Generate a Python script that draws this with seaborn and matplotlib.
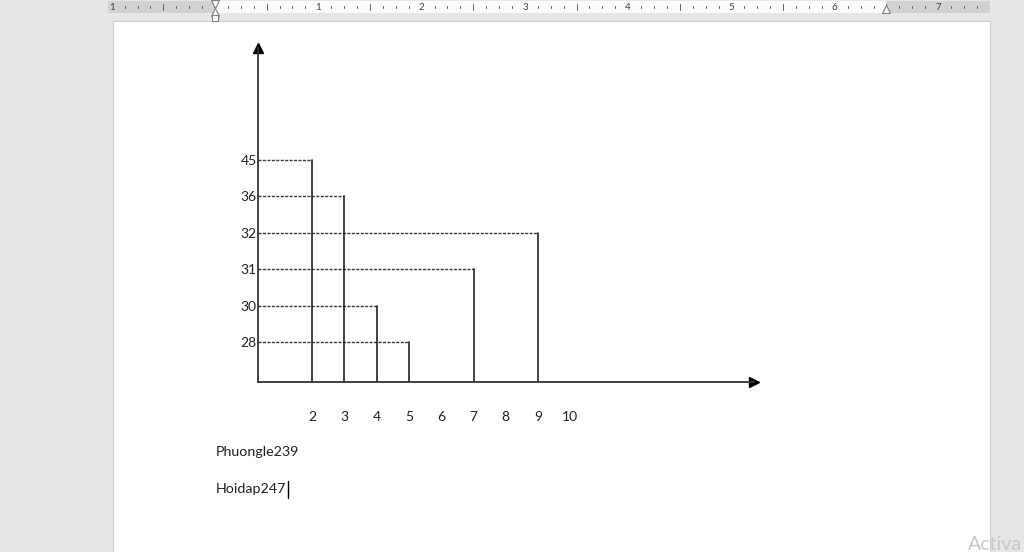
import numpy as np
import pandas as pd
import matplotlib
matplotlib.use("Agg")
import matplotlib.pyplot as plt
from matplotlib.patches import Rectangle
import seaborn as sns

# ---- data ----
x_values = [2, 3, 4, 5, 7, 9]
frequencies = [45, 36, 30, 28, 31, 32]
x_tick_labels = [2, 3, 4, 5, 6, 7, 8, 9, 10]
y_tick_labels = sorted(set(frequencies))          # 28, 30, 31, 32, 36, 45 (equally spaced)
footer_lines = ["Phuongle239", "Hoidap247"]

sns.set_theme(style="white")
plt.rcParams["font.family"] = ["Lato", "DejaVu Sans"]

W, H = 1024, 552
fig = plt.figure(figsize=(W / 100, H / 100), dpi=100)
fig.patch.set_facecolor("#e6e6e6")

def fx(px):
    return px / W

def fy(py):
    return 1 - py / H

# Word page & ruler decoration
fig.add_artist(Rectangle((fx(113), 0), fx(990) - fx(113), fy(21), transform=fig.transFigure,
                         facecolor="white", edgecolor="#cfcfcf", lw=0.8, zorder=0))
fig.add_artist(Rectangle((fx(108), fy(13)), fx(990) - fx(108), fy(1) - fy(13), transform=fig.transFigure,
                         facecolor="#d2d2d2", edgecolor="none", zorder=0))
fig.add_artist(Rectangle((fx(215), fy(13)), fx(886) - fx(215), fy(1) - fy(13), transform=fig.transFigure,
                         facecolor="#fbfbfb", edgecolor="none", zorder=0))
inch = 103.3
origin = 215
for i in range(-1, 8):
    for q in range(1, 8):
        xp = origin + i * inch + q * inch / 8
        if 110 < xp < 988:
            h = 3 if q == 4 else 1.2
            fig.add_artist(plt.Line2D([fx(xp), fx(xp)], [fy(7 - h), fy(7 + h)], transform=fig.transFigure,
                                      color="#606060", lw=0.7))
for i in [-1, 1, 2, 3, 4, 5, 6, 7]:
    xp = origin + i * inch
    fig.text(fx(xp), fy(7), str(abs(i)), ha="center", va="center", fontsize=7, color="#404040")
# indent markers (hourglass at left, triangle at right)
fig.add_artist(plt.Line2D([fx(215)], [fy(4)], transform=fig.transFigure, marker="v", ms=6,
                          mfc="white", mec="#808080", mew=0.8, ls="none"))
fig.add_artist(plt.Line2D([fx(215)], [fy(12)], transform=fig.transFigure, marker="^", ms=6,
                          mfc="white", mec="#808080", mew=0.8, ls="none"))
fig.add_artist(plt.Line2D([fx(215)], [fy(18)], transform=fig.transFigure, marker="s", ms=5,
                          mfc="white", mec="#808080", mew=0.8, ls="none"))
fig.add_artist(plt.Line2D([fx(886)], [fy(9)], transform=fig.transFigure, marker="^", ms=6,
                          mfc="white", mec="#808080", mew=0.8, ls="none"))

# ---- chart axes ----
ax_left, ax_right, ax_bottom, ax_top = 258, 754, 382, 48
ax = fig.add_axes([fx(ax_left), fy(ax_bottom), fx(ax_right) - fx(ax_left), fy(ax_top) - fy(ax_bottom)])
ax.set_facecolor("none")

x_scale = 32.3   # px per unit
x_lo = 2 - (312 - ax_left) / x_scale
x_hi = 2 + (ax_right - 312) / x_scale
y_scale = 36.4   # px per rank step
y_lo = 1 - (ax_bottom - 342) / y_scale
y_hi = 6 + (160 - ax_top) / y_scale
ax.set_xlim(x_lo, x_hi)
ax.set_ylim(y_lo, y_hi)

rank = {v: i + 1 for i, v in enumerate(y_tick_labels)}

stems = pd.DataFrame({
    "x": [x for x in x_values for _ in (0, 1)],
    "y": [y for f in frequencies for y in (y_lo, rank[f])],
    "seg": [i for i in range(len(x_values)) for _ in (0, 1)],
})
guides = pd.DataFrame({
    "x": [x for xv in x_values for x in (x_lo, xv)],
    "y": [rank[f] for f in frequencies for _ in (0, 1)],
    "seg": [i for i in range(len(x_values)) for _ in (0, 1)],
})

sns.lineplot(data=guides, x="x", y="y", units="seg", estimator=None, sort=False,
             color="#3a3a3a", lw=1.0, linestyle=(0, (2.2, 1.0)), ax=ax)
sns.lineplot(data=stems, x="x", y="y", units="seg", estimator=None, sort=False,
             color="#222222", lw=1.2, ax=ax)

sns.despine(ax=ax, top=True, right=True)
for s in ("left", "bottom"):
    ax.spines[s].set_color("#333333")
    ax.spines[s].set_linewidth(1.3)
ax.plot(1, 0, marker=">", color="black", ms=7, transform=ax.transAxes, clip_on=False)
ax.plot(0, 1, marker="^", color="black", ms=7, transform=ax.transAxes, clip_on=False)

ax.set_xticks(x_tick_labels)
ax.set_xticklabels([str(v) for v in x_tick_labels])
ax.set_yticks([rank[v] for v in y_tick_labels])
ax.set_yticklabels([str(v) for v in y_tick_labels])
ax.tick_params(axis="x", length=0, pad=21, labelsize=10, labelcolor="#222222")
ax.tick_params(axis="y", length=0, pad=1, labelsize=10, labelcolor="#222222")
ax.set_xlabel("")
ax.set_ylabel("")
ax.grid(False)

# document text
fig.text(fx(216), fy(452), footer_lines[0], ha="left", va="center", fontsize=10.3, color="#222222")
fig.text(fx(216), fy(489), footer_lines[1], ha="left", va="center", fontsize=10.3, color="#222222")
fig.add_artist(plt.Line2D([fx(288), fx(288)], [fy(481), fy(498)], transform=fig.transFigure,
                          color="black", lw=1))
fig.text(fx(1022), fy(544), "Activa", ha="right", va="center", fontsize=14, color="#c8c8c8")

fig.savefig("out.png", dpi=100, facecolor=fig.get_facecolor())
